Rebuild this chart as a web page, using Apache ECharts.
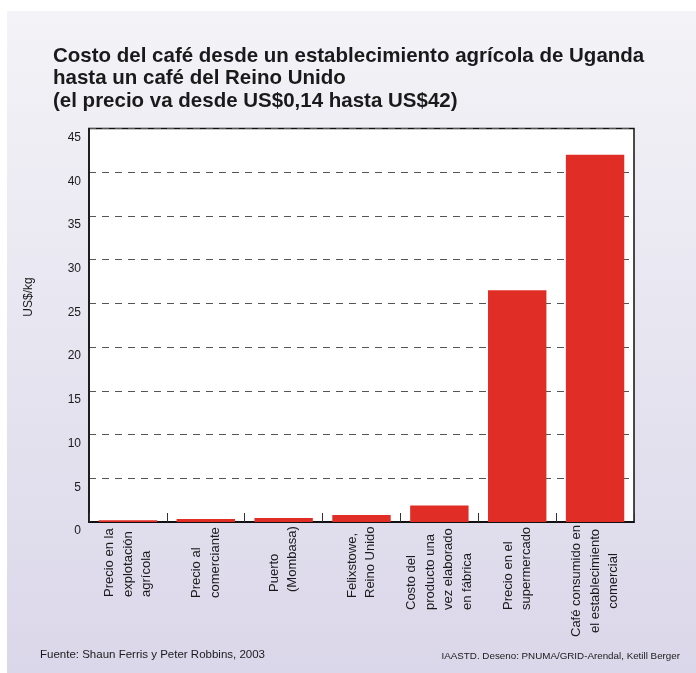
<!DOCTYPE html>
<html>
<head>
<meta charset="utf-8">
<script src="https://cdn.jsdelivr.net/npm/echarts@6/dist/echarts.min.js"></script>
<style>
html,body{margin:0;padding:0;background:#fff;}
#chart{width:696px;height:673px;}
</style>
</head>
<body>
<div id="chart"></div>
<script>
// ---- data ----
var categories = [
  'Precio en la\nexplotación\nagrícola',
  'Precio al\ncomerciante',
  'Puerto\n(Mombasa)',
  'Felixstowe,\nReino Unido',
  'Costo del\nproducto una\nvez elaborado\nen fábrica',
  'Precio en el\nsupermercado',
  'Café consumido en\nel establecimiento\ncomercial'
];
var values = [0.2, 0.35, 0.45, 0.8, 1.9, 26.5, 42];
var yTicks = [0, 5, 10, 15, 20, 25, 30, 35, 40, 45];
var titleText = 'Costo del café desde un establecimiento agrícola de Uganda\nhasta un café del Reino Unido\n(el precio va desde US$0,14 hasta US$42)';
var yAxisTitle = 'US$/kg';
var sourceText = 'Fuente: Shaun Ferris y Peter Robbins, 2003';
var creditText = 'IAASTD. Deseno: PNUMA/GRID-Arendal, Ketill Berger';

// per-label start offsets (layout only)
var labelPad = [40, 39, 45, 39, 27, 27, 0];

var rich = {};
labelPad.forEach(function (p, i) {
  rich['r' + i] = {
    fontFamily: 'Liberation Sans, Arial, sans-serif',
    fontSize: 13,
    lineHeight: 18.5,
    color: '#1a1a1a',
    padding: [0, 0, 0, p],
    align: i === 6 ? 'center' : 'left'
  };
});

var chart = echarts.init(document.getElementById('chart'), null, {renderer: 'canvas'});
chart.setOption({
  animation: false,
  backgroundColor: '#ffffff',
  title: {
    text: titleText,
    left: 53,
    top: 45,
    padding: 0,
    textStyle: {
      fontFamily: 'Liberation Sans, Arial, sans-serif',
      fontSize: 20.5,
      fontWeight: 'bold',
      lineHeight: 22.5,
      color: '#1a1a1a'
    }
  },
  graphic: [
    {
      type: 'rect', z: -100, silent: true,
      shape: {x: 7, y: 11, width: 689, height: 662},
      style: {
        fill: new echarts.graphic.LinearGradient(0, 0, 0, 1, [
          {offset: 0, color: '#f4f3f7'},
          {offset: 0.5, color: '#e7e5f0'},
          {offset: 1, color: '#dbd7ea'}
        ])
      }
    },
    {
      type: 'text', z: 10, x: 29, y: 297, rotation: Math.PI / 2,
      style: {
        text: yAxisTitle, fontFamily: 'Liberation Sans, Arial, sans-serif',
        fontSize: 12, fill: '#1a1a1a', textAlign: 'center', textVerticalAlign: 'middle'
      }
    },
    {
      type: 'text', z: 10, x: 40, y: 655,
      style: {
        text: sourceText, fontFamily: 'Liberation Sans, Arial, sans-serif',
        fontSize: 11.5, fill: '#1a1a1a', textAlign: 'left', textVerticalAlign: 'middle'
      }
    },
    {
      type: 'text', z: 10, x: 680, y: 656,
      style: {
        text: creditText, fontFamily: 'Liberation Sans Narrow, Arial Narrow, sans-serif',
        fontSize: 9.8, fill: '#1a1a1a', textAlign: 'right', textVerticalAlign: 'middle'
      }
    }
  ],
  grid: {
    left: 89, right: 62, top: 128.5, bottom: 151,
    show: true, backgroundColor: '#ffffff', borderColor: '#111', borderWidth: 1.5
  },
  xAxis: {
    type: 'category',
    data: categories,
    boundaryGap: true,
    axisLine: {show: true, lineStyle: {color: '#111', width: 1.8}},
    axisTick: {show: true, inside: true, length: 9, lineStyle: {color: '#333', width: 1}},
    axisLabel: {
      interval: 0,
      rotate: 90,
      margin: 115,
      align: 'left',
      formatter: function (val, idx) {
        return val.split('\n').map(function (s) { return '{r' + idx + '|' + s + '}'; }).join('\n');
      },
      rich: rich
    }
  },
  yAxis: {
    type: 'value',
    min: yTicks[0],
    max: yTicks[yTicks.length - 1],
    interval: 5,
    axisLine: {show: true, lineStyle: {color: '#111', width: 1.5}},
    axisTick: {show: false},
    axisLabel: {
      margin: 8,
      verticalAlign: 'top',
      padding: [3, 0, 0, 0],
      fontFamily: 'Liberation Sans Narrow, Arial Narrow, sans-serif',
      fontSize: 12,
      color: '#1a1a1a'
    },
    splitLine: {show: true, lineStyle: {color: '#555', width: 1, type: [7, 6]}}
  },
  series: [{
    type: 'bar',
    data: values,
    barCategoryGap: '25%',
    itemStyle: {color: '#e02d26'}
  }]
});
</script>
</body>
</html>
